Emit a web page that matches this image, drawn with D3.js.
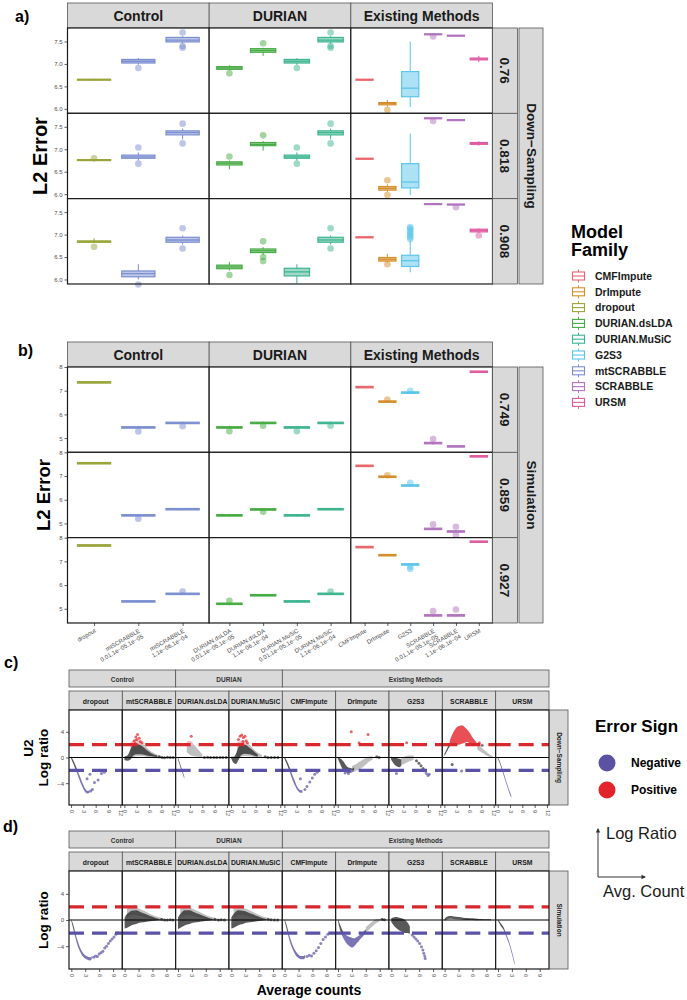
<!DOCTYPE html>
<html>
<head>
<meta charset="utf-8">
<script src="https://cdn.jsdelivr.net/npm/d3@7"></script>
<style>
  body { margin: 0; background: #fff; }
  svg { display: block; }
</style>
</head>
<body>
<div id="chart"></div>
<script>
var FONT = '"Liberation Sans", Arial, Helvetica, sans-serif';

// ---- methods / families ----
var facetNames = ['Control', 'DURIAN', 'Existing Methods'];
var methodFamily = ['dropout', 'mtSCRABBLE', 'mtSCRABBLE', 'DURIAN.dsLDA', 'DURIAN.dsLDA', 'DURIAN.MuSiC', 'DURIAN.MuSiC',
  'CMFImpute', 'DrImpute', 'G2S3', 'SCRABBLE', 'SCRABBLE', 'URSM'];
var methodParams = ['', '0.01,1e\u221205,1e\u221205', '1,1e\u221206,1e\u221204', '0.01,1e\u221205,1e\u221205', '1,1e\u221206,1e\u221204',
  '0.01,1e\u221205,1e\u221205', '1,1e\u221206,1e\u221204', '', '', '', '0.01,1e\u221205,1e\u221205', '1,1e\u221206,1e\u221204', ''];
var methodFacet = [0, 0, 0, 1, 1, 1, 1, 2, 2, 2, 2, 2, 2];

var familyNames = ['CMFImpute', 'DrImpute', 'dropout', 'DURIAN.dsLDA', 'DURIAN.MuSiC', 'G2S3', 'mtSCRABBLE', 'SCRABBLE', 'URSM'];
var familyColors = ['#E8666C', '#D58E2C', '#9AA53A', '#47AB44', '#3DB58F', '#5CC5EA', '#7B8ED0', '#B275BD', '#E05BA0'];

// ---- panel a: down-sampling, [median, q1, q3, lower whisker, upper whisker, outliers] ----
var dsRowLabels = ['0.76', '0.818', '0.908'];
var ds076 = [
  [6.65, 6.64, 6.66, 6.63, 6.67, []],
  [7.06, 7.02, 7.10, 6.98, 7.13, [6.91]],
  [7.53, 7.49, 7.59, 7.45, 7.62, [7.70, 7.40, 7.36]],
  [6.91, 6.88, 6.94, 6.86, 6.97, [6.79]],
  [7.30, 7.26, 7.34, 7.18, 7.36, [7.46]],
  [7.06, 7.02, 7.10, 6.98, 7.13, [6.91]],
  [7.53, 7.49, 7.59, 7.45, 7.62, [7.70, 7.40, 7.36]],
  [6.65, 6.64, 6.66, 6.64, 6.66, []],
  [6.12, 6.09, 6.14, 6.05, 6.20, [5.98]],
  [6.46, 6.27, 6.83, 6.04, 7.50, []],
  [7.66, 7.65, 7.67, 7.64, 7.68, [7.61]],
  [7.63, 7.62, 7.64, 7.62, 7.64, []],
  [7.11, 7.09, 7.13, 7.04, 7.18, []]
];
var ds0818 = [
  [6.76, 6.75, 6.77, 6.73, 6.78, [6.80]],
  [6.83, 6.80, 6.87, 6.75, 6.93, [7.04, 6.68]],
  [7.37, 7.32, 7.41, 7.22, 7.46, [7.57, 7.13]],
  [6.69, 6.65, 6.72, 6.55, 6.75, [6.84]],
  [7.11, 7.08, 7.15, 6.97, 7.18, [7.31]],
  [6.83, 6.80, 6.87, 6.75, 6.93, [7.04, 6.68]],
  [7.37, 7.32, 7.41, 7.22, 7.46, [7.57, 7.13]],
  [6.79, 6.78, 6.80, 6.78, 6.80, []],
  [6.13, 6.09, 6.17, 6.05, 6.22, [6.31, 5.98]],
  [6.27, 6.14, 6.68, 5.98, 7.35, []],
  [7.69, 7.68, 7.70, 7.67, 7.70, [7.63]],
  [7.65, 7.64, 7.66, 7.64, 7.66, []],
  [7.13, 7.11, 7.15, 7.08, 7.18, []]
];
var ds0908 = [
  [6.84, 6.83, 6.86, 6.82, 6.92, [6.73]],
  [6.13, 6.06, 6.19, 6.00, 6.34, [5.89]],
  [6.88, 6.83, 6.94, 6.78, 6.98, [7.14, 6.69]],
  [6.28, 6.24, 6.32, 6.20, 6.39, [6.10]],
  [6.64, 6.60, 6.68, 6.55, 6.72, [6.85, 6.50, 6.41]],
  [6.17, 6.08, 6.25, 5.91, 6.34, []],
  [6.88, 6.83, 6.94, 6.78, 6.98, [7.14, 6.69]],
  [6.94, 6.93, 6.95, 6.93, 6.95, []],
  [6.45, 6.41, 6.49, 6.38, 6.57, [6.34]],
  [6.42, 6.29, 6.54, 6.16, 6.87, [6.90, 6.94, 6.98, 7.02, 7.06, 7.10, 7.14, 7.17]],
  [7.68, 7.67, 7.69, 7.67, 7.69, []],
  [7.67, 7.66, 7.68, 7.66, 7.68, [7.61]],
  [7.09, 7.06, 7.12, 7.04, 7.14, [6.98]]
];

// ---- panel b: simulation ----
var simRowLabels = ['0.749', '0.859', '0.927'];
var sim0749 = [
  [7.35, 7.32, 7.38, 7.31, 7.39, []],
  [5.45, 5.42, 5.48, 5.40, 5.52, [5.28]],
  [5.64, 5.61, 5.67, 5.59, 5.70, [5.50]],
  [5.45, 5.42, 5.48, 5.40, 5.52, [5.29]],
  [5.64, 5.61, 5.67, 5.59, 5.70, [5.52]],
  [5.45, 5.42, 5.48, 5.40, 5.52, [5.29]],
  [5.64, 5.61, 5.67, 5.59, 5.70, [5.52]],
  [7.15, 7.12, 7.18, 7.11, 7.19, []],
  [6.54, 6.51, 6.57, 6.49, 6.59, [6.63]],
  [6.92, 6.89, 6.95, 6.87, 6.97, [7.00]],
  [4.79, 4.76, 4.82, 4.72, 4.85, [4.96]],
  [4.65, 4.62, 4.68, 4.60, 4.70, []],
  [7.80, 7.77, 7.83, 7.76, 7.84, []]
];
var sim0859 = [
  [7.54, 7.51, 7.57, 7.50, 7.58, []],
  [5.34, 5.31, 5.37, 5.29, 5.40, [5.20]],
  [5.60, 5.57, 5.63, 5.56, 5.64, []],
  [5.34, 5.31, 5.37, 5.29, 5.40, []],
  [5.59, 5.56, 5.62, 5.55, 5.63, [5.49]],
  [5.34, 5.31, 5.37, 5.29, 5.40, []],
  [5.60, 5.57, 5.63, 5.56, 5.64, []],
  [7.43, 7.40, 7.46, 7.39, 7.47, []],
  [6.97, 6.94, 7.00, 6.92, 7.02, [7.03]],
  [6.60, 6.57, 6.63, 6.55, 6.65, [6.71]],
  [4.77, 4.74, 4.80, 4.72, 4.82, [4.96]],
  [4.66, 4.63, 4.69, 4.60, 4.72, [4.86, 4.51]],
  [7.83, 7.80, 7.86, 7.79, 7.87, []]
];
var sim0927 = [
  [7.67, 7.64, 7.70, 7.63, 7.71, []],
  [5.31, 5.28, 5.34, 5.26, 5.36, []],
  [5.63, 5.60, 5.66, 5.58, 5.68, [5.73]],
  [5.21, 5.18, 5.24, 5.15, 5.26, [5.34]],
  [5.57, 5.54, 5.60, 5.53, 5.61, []],
  [5.31, 5.28, 5.34, 5.26, 5.36, []],
  [5.63, 5.60, 5.66, 5.58, 5.68, [5.73]],
  [7.60, 7.57, 7.63, 7.56, 7.64, []],
  [7.26, 7.23, 7.29, 7.22, 7.30, []],
  [6.87, 6.84, 6.90, 6.82, 6.92, [6.68, 6.77]],
  [4.72, 4.69, 4.75, 4.66, 4.78, [4.90]],
  [4.72, 4.69, 4.75, 4.66, 4.78, [4.97]],
  [7.83, 7.80, 7.86, 7.79, 7.87, []]
];

// ---- panels c / d: log ratio vs average counts ----
var maPanels = ['dropout', 'mtSCRABBLE', 'DURIAN.dsLDA', 'DURIAN.MuSiC', 'CMFImpute', 'DrImpute', 'G2S3', 'SCRABBLE', 'URSM'];
var maGroups = [['Control', 0, 2], ['DURIAN', 2, 4], ['Existing Methods', 4, 9]];

// dense point clouds as [count, low ratio, high ratio] outlines, one list of bands per panel
var cCore = [
  [[[0,-0.15,0.1],[0.5,-0.9,-0.4],[1,-1.7,-1.1],[1.5,-2.5,-1.9],[2,-3.4,-2.7],[2.5,-4.2,-3.5],[3,-4.9,-4.3],[3.5,-5.4,-4.9],[4,-5.6,-5.2],[4.5,-5.5,-5.1]]],
  [[[0,-0.4,0.1],[0.7,-0.5,0.3],[1.5,-0.3,1.3],[2,0.2,1.9],[3,0.5,2.2],[4,0.5,1.9],[5,0.4,1.4],[6,0.25,0.9],[7,0.15,0.5],[8,0.05,0.3]]],
  [[[0,-0.15,0.1],[0.5,-1.2,-0.8],[1,-2.2,-1.8],[1.6,-3.3,-2.9]]],
  [[[0,-0.1,0.1],[0.6,-0.8,0.1],[1.2,-1.0,0.6],[1.8,-0.4,1.6],[2.5,0.4,2.1],[3.5,0.6,2.0],[4.5,0.5,1.5],[5.5,0.3,1.0],[6.5,0.1,0.5]]],
  [[[0,-0.15,0.1],[0.5,-0.9,-0.4],[1,-1.7,-1.1],[1.5,-2.6,-1.9],[2,-3.5,-2.8],[2.5,-4.3,-3.6],[3,-4.9,-4.4],[3.5,-5.3,-4.9],[4,-5.5,-5.1],[4.4,-5.5,-5.1]]],
  [[[0,-0.1,0.1],[0.5,-0.9,-0.1],[1,-1.6,-0.3],[1.5,-2.1,-0.7],[2,-2.3,-1.2],[2.5,-2.4,-1.5],[3,-2.4,-1.6],[3.5,-2.3,-1.7],[4,-2.1,-1.5]]],
  [[[0,-0.3,0.1],[0.5,-0.8,0.05],[1,-1.2,0.0],[1.5,-1.4,-0.1],[2,-1.5,-0.2],[2.5,-1.3,-0.3]]],
  [[[0,0.2,0.6],[0.5,0.8,1.2],[1,1.4,1.9],[1.5,1.9,2.5]],
   [[1.3,2.0,2.6],[2,2.0,3.7],[2.5,2.0,4.3],[3,2.0,4.7],[3.5,2.0,4.9],[4,2.1,5.0],[4.5,2.2,5.0],[5,2.3,4.7],[5.5,2.4,4.4],[6,2.3,4.0],[6.5,2.1,3.5],[7,2.0,3.0],[7.5,1.9,2.6],[8,1.8,2.2]]],
  [[[0,-0.15,0.1],[0.5,-0.9,-0.6],[1,-1.9,-1.5],[1.5,-2.9,-2.5],[2,-3.9,-3.5],[2.5,-4.9,-4.5],[3,-5.8,-5.4],[3.3,-6.3,-5.9]]]
];
var cHaze = [
  [],
  [[[1.5,-0.2,2.4],[3,0.2,2.8],[4.5,0.2,2.2],[6,0,1.2],[7.5,-0.1,0.6],[9,-0.1,0.2]]],
  [[[2.2,0.8,2.5],[3,0.4,2.6],[4,0.2,2.0],[5,0.1,1.2],[6,0,0.5]]],
  [[[1.5,-0.3,2.4],[3,0.2,2.6],[4.5,0.2,2.0],[6,0,1.0],[7.5,-0.1,0.4]]],
  [],
  [[[3.5,-2.3,-1.3],[4.5,-2.1,-1.0],[5.5,-1.8,-0.6],[6.5,-1.3,-0.2],[7.5,-0.7,0.1],[8.5,-0.3,0.2]]],
  [[[2.5,-1.2,-0.1],[3.5,-0.9,0.2],[4.5,-0.6,0.3],[5.5,-0.4,0.3]]],
  [[[8,1.3,2.0],[9,0.8,1.6],[10,0.4,1.0],[11,0.1,0.5],[11.8,0,0.2]]],
  []
];
var cPoints = [
  [[3.9,-3.3],[4.6,-2.6],[5.2,-5.0],[5.7,-3.9],[6.6,-3.5],[7.4,-2.5],[8.1,-2.3],[4.8,-5.2]],
  [[2.4,2.6],[2.8,3.2],[3.2,3.6],[3.6,3.0],[3.9,2.5],[3.0,2.8],[4.3,2.3],[2.6,2.2],[8.5,0.1],[9.2,0],[9.8,-0.05],[10.5,0.05],[11.2,0],[11.9,0]],
  [[3.3,3.3],[6.5,0],[7.3,0.05],[8,0],[8.8,0],[9.5,0],[10.3,0],[11,0],[11.8,0]],
  [[1.8,2.8],[2.2,3.3],[2.6,3.5],[3.0,3.1],[3.4,3.3],[3.7,2.6],[4.0,2.3],[2.9,2.5],[8.3,0.1],[9,0],[9.8,0],[10.6,0],[11.4,0]],
  [[3.9,-3.3],[5.0,-5.0],[5.5,-4.5],[6.2,-3.8],[6.8,-3.2],[7.4,-2.6],[8.0,-2.3]],
  [[3.3,4.0],[7.4,3.6],[5.2,2.3],[9.5,0.1],[10.1,0],[1.8,-2.4],[2.6,-2.5]],
  [[6.2,-0.5],[6.8,-0.9],[7.3,-1.3],[7.8,-1.7],[8.2,-2.1],[8.6,-2.5],[9.0,-2.8],[9.3,-2.6],[1.3,-2.5],[3.8,2.3]],
  [[1.9,-1.1],[4.2,-2.1],[8.5,2.3],[9.2,1.9]],
  []
];

var dCore = [
  [[[0,-0.2,0.1],[0.4,-1.3,-0.7],[0.9,-2.8,-2.1],[1.5,-4.2,-3.5],[2,-5.0,-4.4],[2.5,-5.6,-5.0],[3,-5.9,-5.4],[3.5,-6.1,-5.6],[4,-6.2,-5.7],[4.4,-6.0,-5.5]]],
  [[[0,-1.3,0.4],[0.5,-1.2,0.9],[1,-1.0,1.2],[1.5,-0.8,1.4],[2.5,-0.6,1.5],[3.5,-0.4,1.2],[4.5,-0.3,0.9],[5.5,-0.2,0.6],[6.5,-0.1,0.35],[7.5,-0.05,0.15]]],
  [[[0,-1.4,0.4],[0.5,-1.2,0.9],[1,-1.0,1.3],[1.5,-0.8,1.5],[2.5,-0.6,1.5],[3.5,-0.4,1.2],[4.5,-0.3,0.9],[5.5,-0.2,0.6],[6.5,-0.1,0.35],[7.5,-0.05,0.15]]],
  [[[0,-1.3,0.4],[0.5,-1.2,0.9],[1,-1.0,1.3],[1.5,-0.8,1.5],[2.5,-0.6,1.4],[3.5,-0.4,1.2],[4.5,-0.3,0.9],[5.5,-0.2,0.6],[6.5,-0.1,0.35],[7.5,-0.05,0.15]]],
  [[[0,-0.2,0.1],[0.4,-1.3,-0.7],[0.9,-2.8,-2.1],[1.5,-4.1,-3.4],[2,-4.9,-4.3],[2.5,-5.5,-4.9],[3,-5.8,-5.3],[3.5,-6.0,-5.5],[4,-6.0,-5.5],[4.4,-5.8,-5.3]]],
  [[[0,-0.2,0.1],[0.4,-1.4,-0.6],[0.9,-2.4,-1.5],[1.4,-3.1,-2.1],[2,-3.7,-2.4],[2.5,-4.0,-2.6],[3,-4.2,-2.7],[3.5,-4.0,-2.8],[4,-3.6,-2.6],[4.5,-3.2,-2.4],[5,-2.8,-2.1],[5.5,-2.4,-1.8],[6,-2.0,-1.4]]],
  [[[0,-0.3,0.3],[0.5,-0.8,0.4],[1,-1.2,0.45],[1.5,-1.5,0.4],[2,-1.7,0.3],[2.5,-1.9,0.2],[3,-2.0,0.0],[3.5,-2.0,-0.4],[4,-2.2,-1.0]]],
  [[[0,-0.1,0.2],[0.5,0.1,0.5],[1,0.2,0.6],[2,0.15,0.55],[3,0.1,0.45],[4,0.05,0.35],[5,0,0.3],[6,0,0.25],[7,-0.05,0.2],[8,-0.05,0.15],[9,-0.05,0.1],[10,-0.05,0.1]]],
  [[[0,-0.15,0.1],[0.6,-0.9,-0.5],[1.2,-1.5,-1.1],[1.8,-2.6,-2.2],[2.4,-3.7,-3.3],[3,-5.2,-4.8],[3.6,-6.9,-6.5]]]
];
var dHaze = [
  [],
  [[[0.5,0.4,1.8],[2,0.8,1.9],[3.5,0.6,1.6],[5,0.3,1.1],[6.5,0.1,0.6],[8,-0.1,0.3]]],
  [[[0.5,0.4,1.8],[2,0.8,2.0],[3.5,0.6,1.6],[5,0.3,1.1],[6.5,0.1,0.6],[8,-0.1,0.3]]],
  [[[0.5,0.4,1.8],[2,0.8,1.9],[3.5,0.6,1.6],[5,0.3,1.1],[6.5,0.1,0.6],[8,-0.1,0.3]]],
  [],
  [[[6,-1.9,-1.1],[6.8,-1.4,-0.6],[7.5,-0.9,-0.2],[8.2,-0.5,0.1],[9,-0.2,0.2]]],
  [],
  [],
  []
];
var dPoints = [
  [[4.8,-5.7],[5.2,-5.5],[5.6,-5.6],[6.0,-5.2],[6.4,-5.0],[6.8,-4.8],[7.2,-4.3],[7.6,-4.0],[8.0,-3.6],[8.4,-3.2],[8.8,-2.9],[9.2,-2.6],[9.6,-2.2],[10.0,-2.0]],
  [[8,0.1],[8.6,0],[9.2,0],[9.8,0.05],[10.4,0]],
  [[8,0.1],[8.7,0],[9.3,0.05],[10,0]],
  [[8,0.1],[8.6,0.05],[9.3,0],[10,0]],
  [[4.8,-5.6],[5.3,-5.4],[5.8,-5.5],[6.3,-5.1],[6.8,-4.7],[7.3,-4.2],[7.8,-3.6],[8.3,-3.0],[8.8,-2.6],[9.3,-2.2]],
  [[9.5,0.1],[10,0.05]],
  [[4.5,-2.3],[4.9,-2.6],[5.3,-2.9],[5.7,-3.2],[6.1,-3.6],[6.5,-4.1],[6.8,-4.6],[7.0,-5.1],[7.2,-5.5],[7.3,-5.9]],
  [],
  []
];

var signNames = ['Negative', 'Positive'];
var signColors = ['#5B52A3', '#E3242B'];

// ---------------------------------------------------------------
var svg = d3.select('#chart').append('svg')
  .attr('width', 687).attr('height', 1000)
  .style('font-family', FONT);

var colorOf = d3.scaleOrdinal().domain(familyNames).range(familyColors);

var boxLeft = 67.5, boxRight = 492.5, facetW = (boxRight - boxLeft) / 3;

var stripRect = function(g, x, y, w, h) {
  g.append('rect').attr('x', x).attr('y', y).attr('width', w).attr('height', h)
    .attr('fill', '#d9d9d9').attr('stroke', '#555').attr('stroke-width', 0.8);
};

var styleAxis = function(ax, size) {
  ax.attr('font-family', FONT).attr('font-size', size);
  ax.select('.domain').remove();
  ax.selectAll('line').attr('stroke', '#333').attr('stroke-width', 0.8);
  ax.selectAll('text').attr('fill', '#4d4d4d');
};

var drawBox = function(g, d, cx, bw, y, c) {
  var b = g.append('g');
  b.append('line').attr('x1', cx).attr('x2', cx).attr('y1', y(d[3])).attr('y2', y(d[1]))
    .attr('stroke', c).attr('stroke-width', 1);
  b.append('line').attr('x1', cx).attr('x2', cx).attr('y1', y(d[2])).attr('y2', y(d[4]))
    .attr('stroke', c).attr('stroke-width', 1);
  b.append('rect').attr('x', cx - bw / 2).attr('y', y(d[2]))
    .attr('width', bw).attr('height', Math.max(1, y(d[1]) - y(d[2])))
    .attr('fill', c).attr('fill-opacity', 0.5).attr('stroke', c).attr('stroke-width', 1.2);
  b.append('line').attr('x1', cx - bw / 2).attr('x2', cx + bw / 2).attr('y1', y(d[0])).attr('y2', y(d[0]))
    .attr('stroke', c).attr('stroke-width', 1.3);
  b.selectAll('circle').data(d[5]).enter().append('circle')
    .attr('cx', cx).attr('cy', function(v) { return y(v); }).attr('r', 3.3)
    .attr('fill', c).attr('fill-opacity', 0.5);
};

var drawBoxFigure = function(top, rowH, rows, rowLabels, outerLabel, yDomain, yTicks, fmt, showX) {
  var g = svg.append('g');
  var pTop = top + 25;

  facetNames.forEach(function(name, f) {
    var x0 = boxLeft + f * facetW;
    stripRect(g, x0, top, facetW, 25);
    g.append('text').attr('x', x0 + facetW / 2).attr('y', top + 17.5)
      .attr('text-anchor', 'middle').attr('font-size', 14).attr('font-weight', 'bold')
      .attr('fill', '#1a1a1a').text(name);
  });

  rows.forEach(function(rowData, r) {
    var y0 = pTop + r * rowH;
    var y = d3.scaleLinear().domain(yDomain).range([y0 + rowH, y0]);

    facetNames.forEach(function(name, f) {
      var x0 = boxLeft + f * facetW;
      var idx = d3.range(methodFamily.length).filter(function(i) { return methodFacet[i] === f; });
      var x = d3.scalePoint().domain(idx).range([x0, x0 + facetW]).padding(0.6);
      var bw = x.step() * 0.75;

      g.append('rect').attr('x', x0).attr('y', y0).attr('width', facetW).attr('height', rowH).attr('fill', '#fff');
      idx.forEach(function(i) { drawBox(g, rowData[i], x(i), bw, y, colorOf(methodFamily[i])); });

      if (showX && r === rows.length - 1) {
        var ax = g.append('g').attr('transform', 'translate(0,' + (y0 + rowH) + ')')
          .call(d3.axisBottom(x).tickSize(3).tickFormat(''));
        styleAxis(ax, 6);
        idx.forEach(function(i) {
          var lg = g.append('g').attr('transform', 'translate(' + x(i) + ',' + (y0 + rowH + 5) + ') rotate(-30)');
          var t = lg.append('text').attr('text-anchor', 'end').attr('font-size', 6).attr('fill', '#4d4d4d');
          t.append('tspan').attr('x', 0).attr('dy', '0.75em').text(methodFamily[i]);
          if (methodParams[i]) t.append('tspan').attr('x', 0).attr('dy', '1.1em').text(methodParams[i]);
        });
      }
      g.append('rect').attr('x', x0).attr('y', y0).attr('width', facetW).attr('height', rowH)
        .attr('fill', 'none').attr('stroke', '#1a1a1a').attr('stroke-width', 1.2);
    });

    var ay = g.append('g').attr('transform', 'translate(' + boxLeft + ',0)')
      .call(d3.axisLeft(y).tickValues(yTicks).tickSize(3).tickPadding(2).tickFormat(fmt));
    styleAxis(ay, 6);

    stripRect(g, boxRight, y0, 25, rowH);
    g.append('text').attr('transform', 'translate(' + (boxRight + 7.5) + ',' + (y0 + rowH / 2) + ') rotate(90)')
      .attr('text-anchor', 'middle').attr('font-size', 13.5).attr('font-weight', 'bold')
      .attr('fill', '#1a1a1a').text(rowLabels[r]);
  });

  var total = rowH * rows.length;
  stripRect(g, boxRight + 26.5, pTop, 24, total);
  g.append('text').attr('transform', 'translate(' + (boxRight + 34) + ',' + (pTop + total / 2) + ') rotate(90)')
    .attr('text-anchor', 'middle').attr('font-size', 13.5).attr('font-weight', 'bold')
    .attr('fill', '#1a1a1a').text(outerLabel);
};

// panel a
drawBoxFigure(3, 85.33, [ds076, ds0818, ds0908], dsRowLabels, 'Down\u2212Sampling',
  [5.9, 7.8], [6.0, 6.5, 7.0, 7.5], d3.format('.1f'), false);
// panel b
drawBoxFigure(342, 85.33, [sim0749, sim0859, sim0927], simRowLabels, 'Simulation',
  [4.4, 8.0], [5, 6, 7, 8], d3.format('d'), true);

svg.append('text').attr('transform', 'translate(47,156) rotate(-90)').attr('text-anchor', 'middle')
  .attr('font-size', 20).attr('font-weight', 'bold').text('L2 Error');
svg.append('text').attr('transform', 'translate(50,495) rotate(-90)').attr('text-anchor', 'middle')
  .attr('font-size', 18.5).attr('font-weight', 'bold').text('L2 Error');

// ---- MA style panels ----
var maLeft = 69, maW = 480 / 9;

var drawMAFigure = function(key, top, panelH, xDomain, xTicks, yDomain, core, haze, pts, sideLabel) {
  var g = svg.append('g');
  var inTop = top + 21, pTop = top + 40;
  var x = d3.scaleLinear().domain(xDomain).range([0, maW]);
  var y = d3.scaleLinear().domain(yDomain).range([panelH, 0]);
  var area = d3.area().x(function(d) { return x(d[0]); })
    .y0(function(d) { return y(d[1]); }).y1(function(d) { return y(d[2]); })
    .curve(d3.curveMonotoneX);

  var zones = [
    { id: key + 'pos', y0: 0, y1: y(2), col: signColors[1] },
    { id: key + 'mid', y0: y(2), y1: y(-2), col: '#2f2f2f' },
    { id: key + 'neg', y0: y(-2), y1: panelH, col: signColors[0] }
  ];
  var defs = svg.append('defs');
  zones.forEach(function(z) {
    defs.append('clipPath').attr('id', z.id).append('rect')
      .attr('x', 0).attr('y', z.y0).attr('width', maW).attr('height', z.y1 - z.y0);
  });

  maGroups.forEach(function(grp) {
    var gx = maLeft + grp[1] * maW, gw = (grp[2] - grp[1]) * maW;
    stripRect(g, gx, top, gw, 17);
    g.append('text').attr('x', gx + gw / 2).attr('y', top + 11.5).attr('text-anchor', 'middle')
      .attr('font-size', 6.5).attr('font-weight', 'bold').attr('fill', '#333').text(grp[0]);
  });

  maPanels.forEach(function(name, p) {
    var px = maLeft + p * maW;
    stripRect(g, px, inTop, maW, 19);
    g.append('text').attr('x', px + maW / 2).attr('y', inTop + 12.5).attr('text-anchor', 'middle')
      .attr('font-size', 6.8).attr('font-weight', 'bold').attr('fill', '#1a1a1a').text(name);

    var pg = g.append('g').attr('transform', 'translate(' + px + ',' + pTop + ')');
    pg.append('rect').attr('width', maW).attr('height', panelH).attr('fill', '#fff');

    zones.forEach(function(z) {
      var zg = pg.append('g').attr('clip-path', 'url(#' + z.id + ')');
      haze[p].forEach(function(band) {
        zg.append('path').datum(band).attr('d', area).attr('fill', z.col).attr('fill-opacity', 0.3);
      });
      core[p].forEach(function(band) {
        zg.append('path').datum(band).attr('d', area).attr('fill', z.col).attr('fill-opacity', 0.8);
      });
      zg.selectAll('circle').data(pts[p]).enter().append('circle')
        .attr('cx', function(d) { return x(d[0]); }).attr('cy', function(d) { return y(d[1]); })
        .attr('r', 1.5).attr('fill', z.col).attr('fill-opacity', 0.7);
    });

    pg.append('line').attr('x1', 0).attr('x2', maW).attr('y1', y(0)).attr('y2', y(0))
      .attr('stroke', '#000').attr('stroke-width', 1);
    [[2, '#D8282E'], [-2, '#5A52A6']].forEach(function(h) {
      pg.append('line').attr('x1', 0).attr('x2', maW).attr('y1', y(h[0])).attr('y2', y(h[0]))
        .attr('stroke', h[1]).attr('stroke-width', 3.2).attr('stroke-dasharray', '15,8');
    });

    var ax = pg.append('g').attr('transform', 'translate(0,' + panelH + ')')
      .call(d3.axisBottom(x).tickValues(xTicks).tickSize(3).tickFormat(d3.format('d')));
    styleAxis(ax, 5.5);
    ax.selectAll('text').attr('transform', 'rotate(90)').attr('text-anchor', 'start')
      .attr('x', 5).attr('y', 0).attr('dy', '0.35em');

    pg.append('rect').attr('width', maW).attr('height', panelH)
      .attr('fill', 'none').attr('stroke', '#1a1a1a').attr('stroke-width', 1.2);
  });

  var ay = g.append('g').attr('transform', 'translate(' + maLeft + ',' + pTop + ')')
    .call(d3.axisLeft(y).tickValues([-4, 0, 4]).tickSize(3).tickPadding(2).tickFormat(d3.format('d')));
  styleAxis(ay, 6);

  var sx = maLeft + 9 * maW;
  stripRect(g, sx + 0.5, pTop, 18.5, panelH);
  g.append('text').attr('transform', 'translate(' + (sx + 7.5) + ',' + (pTop + panelH / 2) + ') rotate(90)')
    .attr('text-anchor', 'middle').attr('font-size', 6.5).attr('font-weight', 'bold')
    .attr('fill', '#1a1a1a').text(sideLabel);
};

drawMAFigure('c', 670, 95, [-0.5, 12.5], [0, 3, 6, 9, 12], [-7.4, 7.4], cCore, cHaze, cPoints, 'Down\u2212Sampling');
drawMAFigure('d', 831, 98, [-0.5, 11], [0, 3, 6, 9], [-7.5, 7.5], dCore, dHaze, dPoints, 'Simulation');

svg.append('text').attr('transform', 'translate(33,748) rotate(-90)').attr('text-anchor', 'middle')
  .attr('font-size', 13.5).attr('font-weight', 'bold').text('U2');
svg.append('text').attr('transform', 'translate(48,757.5) rotate(-90)').attr('text-anchor', 'middle')
  .attr('font-size', 13.5).attr('font-weight', 'bold').text('Log ratio');
svg.append('text').attr('transform', 'translate(48,920) rotate(-90)').attr('text-anchor', 'middle')
  .attr('font-size', 13.5).attr('font-weight', 'bold').text('Log ratio');
svg.append('text').attr('x', 309).attr('y', 995).attr('text-anchor', 'middle')
  .attr('font-size', 14).attr('font-weight', 'bold').text('Average counts');

// panel tags
[['a)', 15, 22], ['b)', 18, 356], ['c)', 4, 668], ['d)', 3, 832]].forEach(function(t) {
  svg.append('text').attr('x', t[1]).attr('y', t[2]).attr('font-size', 16).attr('font-weight', 'bold').text(t[0]);
});

// ---- Model Family legend ----
var lg = svg.append('g');
lg.append('text').attr('x', 571).attr('y', 238).attr('font-size', 18).attr('font-weight', 'bold').text('Model');
lg.append('text').attr('x', 571).attr('y', 256).attr('font-size', 18).attr('font-weight', 'bold').text('Family');
familyNames.forEach(function(name, i) {
  var cy = 276 + i * 15.8, c = familyColors[i];
  lg.append('line').attr('x1', 578.5).attr('x2', 578.5).attr('y1', cy - 6.5).attr('y2', cy + 6.5)
    .attr('stroke', c).attr('stroke-width', 1);
  lg.append('rect').attr('x', 572.5).attr('y', cy - 4).attr('width', 12).attr('height', 8)
    .attr('fill', '#fff').attr('stroke', c).attr('stroke-width', 1.1);
  lg.append('line').attr('x1', 572.5).attr('x2', 584.5).attr('y1', cy).attr('y2', cy)
    .attr('stroke', c).attr('stroke-width', 1.1);
  lg.append('text').attr('x', 595).attr('y', cy + 3.8).attr('font-size', 10.5).attr('font-weight', 'bold')
    .attr('fill', '#1a1a1a').text(name);
});

// ---- Error Sign legend ----
var eg = svg.append('g');
eg.append('text').attr('x', 595).attr('y', 732).attr('font-size', 17).attr('font-weight', 'bold').text('Error Sign');
signNames.forEach(function(name, i) {
  var cy = 763 + i * 27;
  eg.append('circle').attr('cx', 607).attr('cy', cy).attr('r', 8.5).attr('fill', signColors[i]);
  eg.append('text').attr('x', 631).attr('y', cy + 4.3).attr('font-size', 12).attr('font-weight', 'bold').text(name);
});

// ---- axes guide ----
var ag = svg.append('g');
ag.append('path').attr('d', 'M598,877 L598,829 M645,877 L598,877')
  .attr('fill', 'none').attr('stroke', '#333').attr('stroke-width', 1);
ag.append('path').attr('d', 'M595.8,832.5 L598,828 L600.2,832.5 Z').attr('fill', '#333');
ag.append('path').attr('d', 'M641.5,874.8 L646,877 L641.5,879.2 Z').attr('fill', '#333');
ag.append('text').attr('x', 606).attr('y', 839).attr('font-size', 16.5).attr('fill', '#1a1a1a').text('Log Ratio');
ag.append('text').attr('x', 603).attr('y', 897).attr('font-size', 16.5).attr('fill', '#1a1a1a').text('Avg. Count');
</script>
</body>
</html>
